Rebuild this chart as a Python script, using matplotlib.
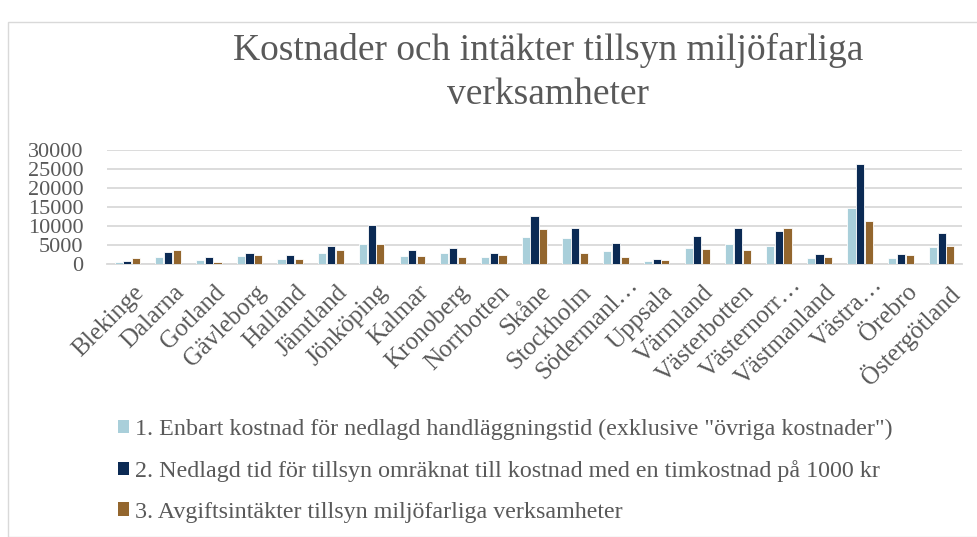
import numpy as np
import matplotlib
matplotlib.use("Agg")
import matplotlib.pyplot as plt
import matplotlib.transforms as mtransforms
from matplotlib.patches import Patch, Rectangle

# counties (labels as truncated in the original chart)
lan = ["Blekinge", "Dalarna", "Gotland", "Gävleborg", "Halland", "Jämtland",
       "Jönköping", "Kalmar", "Kronoberg", "Norrbotten", "Skåne", "Stockholm",
       "Södermanl…", "Uppsala", "Värmland", "Västerbotten", "Västernorr…",
       "Västmanland", "Västra…", "Örebro", "Östergötland"]

handlaggning = [440, 1840, 1050, 2020, 1310, 2890, 5260, 2020, 2800, 1840, 7010,
                6750, 3510, 880, 4210, 5260, 4820, 1580, 14730, 1490, 4470]
timkostnad = [790, 3160, 1840, 2980, 2280, 4820, 10260, 3680, 4210, 2890, 12630,
              9560, 5610, 1230, 7280, 9470, 8680, 2720, 26300, 2720, 8070]
avgifter = [1580, 3680, 530, 2370, 1400, 3770, 5260, 2100, 1750, 2370, 9200,
            2980, 1930, 1140, 4030, 3770, 9470, 1840, 11310, 2280, 4730]

serie_namn = ['1. Enbart kostnad för nedlagd handläggningstid (exklusive "övriga kostnader")',
              "2. Nedlagd tid för tillsyn omräknat till kostnad med en timkostnad på 1000 kr",
              "3. Avgiftsintäkter tillsyn miljöfarliga verksamheter"]
farger = ["#A9CFDA", "#0B2A54", "#93662E"]
yticks = [0, 5000, 10000, 15000, 20000, 25000, 30000]

textfarg = "#595959"
plt.rcParams["font.family"] = ["Liberation Serif", "DejaVu Serif"]

W, H = 978, 537
fig = plt.figure(figsize=(W / 100, H / 100), dpi=100)
fig.patches.append(Rectangle((8 / W, 0), 1.0, 1 - 22 / H, transform=fig.transFigure,
                             fill=False, edgecolor="#D9D9D9", linewidth=1.0))

ax = fig.add_axes([107 / W, 1 - 264 / H, (962 - 107) / W, (264 - 150) / H])
x = np.arange(len(lan))
for i, (vals, col) in enumerate(zip([handlaggning, timkostnad, avgifter], farger)):
    ax.bar(x + (i - 1) * 0.213, vals, width=0.2, color=col, edgecolor="white",
           linewidth=0.6, zorder=3)

ax.set_xlim(-0.5, len(lan) - 0.5)
ax.set_ylim(0, 30000)
ax.set_yticks(yticks)
ax.set_yticklabels([str(v) for v in yticks])
ax.grid(axis="y", color="#D9D9D9", linewidth=1.3, zorder=0)
for s in ["top", "right", "left"]:
    ax.spines[s].set_visible(False)
ax.spines["bottom"].set_color("#D9D9D9")
ax.spines["bottom"].set_linewidth(1.3)
ax.tick_params(axis="y", length=0, labelsize=16, colors=textfarg, pad=17)
ax.tick_params(axis="x", length=0, labelsize=18, colors=textfarg, pad=10)
ax.set_xticks(x)
ax.set_xticklabels(lan, rotation=45, ha="right", rotation_mode="anchor")
for lbl in ax.get_xticklabels():
    dx, dy = 5, -3
    # truncated labels sit a bit further right/up in the original
    if lbl.get_text().endswith("…"):
        dx, dy = 11, 4
    lbl.set_transform(lbl.get_transform() +
                      mtransforms.ScaledTranslation(dx / 100, dy / 100, fig.dpi_scale_trans))

fig.text(548 / W, 1 - 50 / H, "Kostnader och intäkter tillsyn miljöfarliga",
         ha="center", va="center", fontsize=27, color=textfarg)
fig.text(548 / W, 1 - 95 / H, "verksamheter",
         ha="center", va="center", fontsize=27, color=textfarg)

handles = [Patch(facecolor=c, edgecolor="none") for c in farger]
leg = fig.legend(handles, serie_namn, loc="upper left",
                 bbox_to_anchor=(108 / W, 1 - 409 / H), frameon=False,
                 fontsize=17.3, labelspacing=0.83, handlelength=0.47,
                 handleheight=0.47, handletextpad=0.25, borderaxespad=0)
for t in leg.get_texts():
    t.set_color(textfarg)

fig.savefig("out.png", dpi=100)
